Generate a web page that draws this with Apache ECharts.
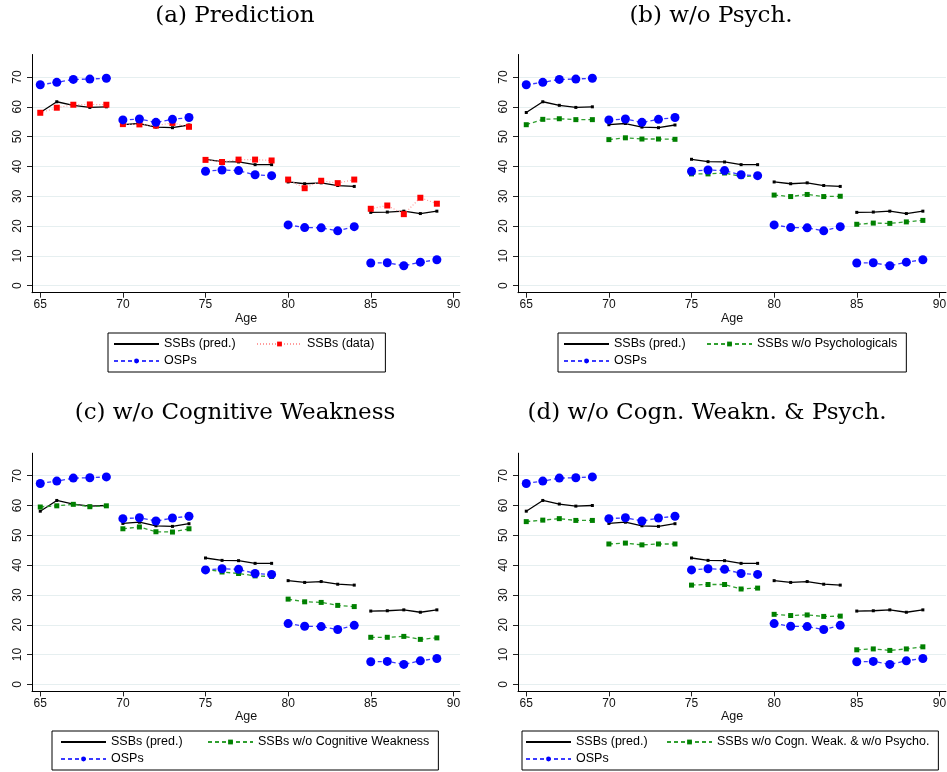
<!DOCTYPE html>
<html>
<head>
<meta charset="utf-8">
<script src="https://cdn.jsdelivr.net/npm/echarts@6/dist/echarts.min.js"></script>
<style>html,body{margin:0;padding:0;background:#fff;}#c{width:947px;height:772px;}</style>
</head>
<body>
<div id="c"></div>
<script>
const ages = [65,66,67,68,69,70,71,72,73,74,75,76,77,78,79,80,81,82,83,84,85,86,87,88,89];
const ssbPred    = [58.1,61.7,60.5,59.8,60.0, 54.0,54.4,53.2,53.0,53.9, 42.4,41.6,41.5,40.6,40.6, 34.8,34.2,34.5,33.6,33.3, 24.6,24.7,25.0,24.2,25.0];
const osp        = [67.4,68.2,69.2,69.3,69.6, 55.6,55.9,54.8,55.8,56.4, 38.4,38.8,38.6,37.2,36.9, 20.4,19.5,19.4,18.4,19.8, 7.6,7.7,6.7,7.9,8.7];
const ssbData    = [58.0,59.7,60.7,60.8,60.7, 54.2,54.1,53.7,54.6,53.3, 42.2,41.5,42.3,42.3,42.0, 35.6,32.7,35.2,34.4,35.6, 25.8,26.9,24.0,29.5,27.5];
const ssbNoPsych = [54.0,55.8,56.0,55.7,55.7, 49.0,49.6,49.2,49.2,49.1, 37.5,37.5,37.8,36.6,36.8, 30.4,29.9,30.6,29.9,30.0, 20.6,21.0,20.9,21.4,21.9];
const ssbNoCog   = [59.5,59.9,60.4,59.6,59.9, 52.2,52.8,51.2,51.1,52.2, 38.7,37.7,37.2,36.4,36.2, 28.6,27.7,27.5,26.5,26.1, 15.8,15.8,16.1,15.1,15.6];
const ssbNoBoth  = [54.6,55.1,55.6,55.0,55.0, 47.1,47.4,46.8,47.1,47.1, 33.3,33.5,33.5,32.0,32.3, 23.5,23.1,23.3,22.8,22.9, 11.6,11.9,11.4,11.9,12.6];
const xTicks = [65,70,75,80,85,90];
const yTicks = [0,10,20,30,40,50,60,70];
const titles = ['(a) Prediction','(b) w/o Psych.','(c) w/o Cognitive Weakness','(d) w/o Cogn. Weakn. & Psych.'];
const thirdNames = ['SSBs (data)','SSBs w/o Psychologicals','SSBs w/o Cognitive Weakness','SSBs w/o Cogn. Weak. & w/o Psycho.'];
const thirdValues = [ssbData, ssbNoPsych, ssbNoCog, ssbNoBoth];

function segData(vals){
  const out = [];
  ages.forEach((a,i)=>{
    if (i>0 && Math.floor(a/5) !== Math.floor(ages[i-1]/5)) out.push([a,'-']);
    out.push([a, vals[i]]);
  });
  return out;
}

const gridPos = [
  {left:32, top:54.5},{left:518, top:54.5},{left:32, top:453.2},{left:518, top:453.2}
];
const titlePos = [{x:235,y:5},{x:711,y:5},{x:235,y:402},{x:707,y:402}];
const legendPos = [
  {left:108, top:333, w:89, pad:[4,11,4,5]},
  {left:558, top:333, w:89, pad:[4,9,4,5]},
  {left:52, top:731, w:93, pad:[4,9,4,8]},
  {left:522, top:731, w:87, pad:[4,9,4,3]}
];
const sans = 'Liberation Sans';

const option = {
  animation:false,
  backgroundColor:'#fff',
  title: titles.map((t,i)=>({
    text:t, left:titlePos[i].x, top:titlePos[i].y, textAlign:'center', padding:0,
    textStyle:{fontFamily:'DejaVu Serif', fontSize:23, fontWeight:'normal', color:'#000'}
  })),
  grid: gridPos.map(g=>({left:g.left, top:g.top, width:428, height:238.2, containLabel:false, outerBoundsMode:'none'})),
  xAxis: gridPos.map((g,i)=>({
    type:'value', gridIndex:i, min:64.5, max:90.4,
    name:'Age', nameLocation:'middle', nameGap:19,
    nameTextStyle:{fontFamily:sans, fontSize:12.5, color:'#111'},
    axisLine:{show:true, onZero:false, lineStyle:{color:'#000', width:1}},
    axisTick:{show:true, length:5, customValues:xTicks, lineStyle:{color:'#222'}},
    axisLabel:{customValues:xTicks, margin:6, fontFamily:sans, fontSize:12, color:'#111'},
    splitLine:{show:false}
  })),
  yAxis: gridPos.map((g,i)=>({
    type:'value', gridIndex:i, min:-2.35, max:77.55,
    axisLine:{show:true, onZero:false, lineStyle:{color:'#000', width:1}},
    axisTick:{show:true, length:5, customValues:yTicks, lineStyle:{color:'#222'}},
    axisLabel:{customValues:yTicks, rotate:90, margin:8, fontFamily:sans, fontSize:12, color:'#111'},
    splitLine:{show:true, lineStyle:{color:'#e6eff0', width:1}}
  })),
  legend: legendPos.map((l,i)=>({
    orient:'vertical', left:l.left, top:l.top, height:40,
    itemWidth:45, itemHeight:6, itemGap:3, padding:l.pad,
    borderColor:'#000', borderWidth:1, borderRadius:0, selectedMode:false,
    textStyle:{fontFamily:sans, fontSize:12.5, lineHeight:14, color:'#000'},
    data:[
      {name:'SSBs (pred.)', itemStyle:{opacity:0}, textStyle:{width:l.w}},
      {name:'OSPs', textStyle:{width:l.w}},
      {name:thirdNames[i]}
    ]
  })),
  series: []
};

for (let i=0;i<4;i++){
  const isRed = i===0;
  option.series.push({
    type:'line', name:'SSBs (pred.)', xAxisIndex:i, yAxisIndex:i,
    data:segData(ssbPred), symbol:'rect', symbolSize:3, showSymbol:true,
    lineStyle:{color:'#000', width:1.3}, itemStyle:{color:'#000'}, z:2
  });
  option.series.push({
    type:'line', name:thirdNames[i], xAxisIndex:i, yAxisIndex:i,
    data:segData(thirdValues[i]), symbol:'rect', symbolSize:isRed?6:5, showSymbol:true,
    lineStyle: isRed ? {color:'#ff9c9c', width:1.2, type:[1,2]} : {color:'#2f9f2f', width:1.3, type:[4,3]},
    itemStyle:{color: isRed ? '#ff0000' : '#008000'}, z:3
  });
  option.series.push({
    type:'line', name:'OSPs', xAxisIndex:i, yAxisIndex:i,
    data:segData(osp), symbol:'circle', symbolSize:9, showSymbol:true,
    lineStyle:{color:'#3a3aff', width:1.3, type:[4,3]}, itemStyle:{color:'#0000ff'}, z:4
  });
}

const chart = echarts.init(document.getElementById('c'), null, {renderer:'canvas'});
chart.setOption(option);
</script>
</body>
</html>
